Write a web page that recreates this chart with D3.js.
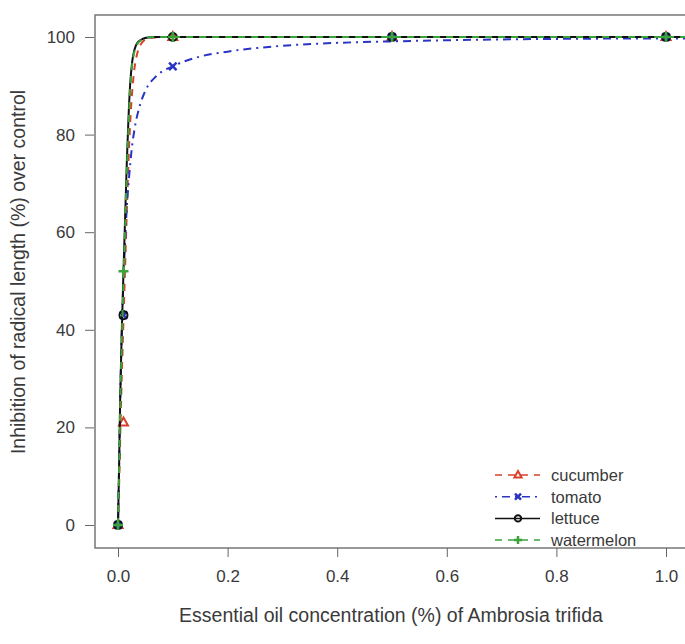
<!DOCTYPE html>
<html>
<head>
<meta charset="utf-8">
<script src="https://cdn.jsdelivr.net/npm/d3@7"></script>
<style>
  body { margin: 0; background: #fff; }
  text { font-family: "Liberation Sans", Arial, sans-serif; fill: #3a3a3a; }
</style>
</head>
<body>
<div id="chart"></div>
<script>
// observed concentrations and responses
let conc = [0, 0.01, 0.1, 0.5, 1.0];
let cucumberObs = [0, 21, 100, 100, 100];
let tomatoObs = [0, 43, 94, 100, 100];
let lettuceObs = [0, 43, 100, 100, 100];
let watermelonObs = [0, 52, 100, 100, 100];

// fitted curves
let fitX = [0, 0.002, 0.004, 0.007, 0.01, 0.013, 0.016, 0.019, 0.022, 0.026, 0.03, 0.036, 0.045, 0.055, 0.07, 0.1, 0.5, 1.04];
let cucumberFit = [0, 8, 18, 31, 42, 53, 64, 74, 82, 89, 93.5, 97, 99, 99.7, 99.95, 100, 100, 100];
let lettuceFit = [0, 12, 26, 40, 52, 63, 74, 83, 90, 95, 97.4, 98.9, 99.6, 99.9, 100, 100, 100, 100];
let watermelonFit = [0, 11, 24, 38, 50, 61, 72, 81, 89, 94.5, 97, 98.7, 99.5, 99.9, 100, 100, 100, 100];
let tomatoX = [0, 0.002, 0.004, 0.007, 0.01, 0.013, 0.016, 0.02, 0.025, 0.03, 0.04, 0.05, 0.07, 0.1, 0.15, 0.2, 0.3, 0.4, 0.5, 0.7, 1.0, 1.04];
let tomatoFit = [0, 12, 25, 40, 50, 58, 65, 71, 77, 81, 86, 89, 92, 94, 96, 97, 98.2, 98.8, 99.1, 99.5, 99.7, 99.7];

let xTicks = [0, 0.2, 0.4, 0.6, 0.8, 1.0];
let yTicks = [0, 20, 40, 60, 80, 100];

let width = 685, height = 644;
let box = {left: 95, right: 687, top: 15, bottom: 548};

let svg = d3.select("#chart").append("svg")
  .attr("width", width)
  .attr("height", height);

let x = d3.scaleLinear().domain([0, 1]).range([118, 666]);
let y = d3.scaleLinear().domain([0, 100]).range([525, 37]);

let series = [
  {name: "cucumber", color: "#d8402c", dash: "7,6", xs: fitX, fit: cucumberFit, obs: cucumberObs, pch: "tri"},
  {name: "tomato", color: "#2a34c4", dash: "2,5,8,5", xs: tomatoX, fit: tomatoFit, obs: tomatoObs, pch: "x"},
  {name: "lettuce", color: "#111111", dash: null, xs: fitX, fit: lettuceFit, obs: lettuceObs, pch: "circle"},
  {name: "watermelon", color: "#3aa43a", dash: "7,6", xs: fitX, fit: watermelonFit, obs: watermelonObs, pch: "plus"}
];

// plot frame
svg.append("rect")
  .attr("x", box.left).attr("y", box.top)
  .attr("width", box.right - box.left).attr("height", box.bottom - box.top)
  .attr("fill", "none").attr("stroke", "#777").attr("stroke-width", 1.5);

// axes
let xAxis = d3.axisBottom(x).tickValues(xTicks).tickFormat(d3.format(".1f")).tickSize(9).tickPadding(13);
svg.append("g").attr("transform", "translate(0," + box.bottom + ")").call(xAxis)
  .call(g => g.select(".domain").remove())
  .call(g => g.selectAll("line").attr("stroke", "#666"))
  .call(g => g.selectAll("text").attr("font-size", "17px").attr("fill", "#3a3a3a").style("font-family", "Liberation Sans, Arial, sans-serif"));

let yAxis = d3.axisLeft(y).tickValues(yTicks).tickSize(9).tickPadding(10);
svg.append("g").attr("transform", "translate(" + (box.left - 1) + ",0)").call(yAxis)
  .call(g => g.select(".domain").remove())
  .call(g => g.selectAll("line").attr("stroke", "#666"))
  .call(g => g.selectAll("text").attr("font-size", "17px").attr("fill", "#3a3a3a").style("font-family", "Liberation Sans, Arial, sans-serif"));

// axis titles
svg.append("text")
  .attr("x", (box.left + box.right) / 2).attr("y", 622)
  .attr("text-anchor", "middle").attr("font-size", "19.5px")
  .text("Essential oil concentration (%) of Ambrosia trifida");

svg.append("text")
  .attr("transform", "translate(25,272) rotate(-90)")
  .attr("text-anchor", "middle").attr("font-size", "19.5px")
  .text("Inhibition of radical length (%) over control");

let plot = svg.append("g");
plot.append("clipPath").attr("id", "clip")
  .append("rect").attr("x", box.left).attr("y", box.top)
  .attr("width", box.right - box.left).attr("height", box.bottom - box.top);

let line = d3.line()
  .x(d => x(d[0]))
  .y(d => y(d[1]))
  .curve(d3.curveMonotoneX);

function drawMarker(g, type, cx, cy, color, r) {
  if (type === "tri") {
    g.append("path")
      .attr("d", "M" + cx + "," + (cy - r) + "L" + (cx + r * 0.9) + "," + (cy + r * 0.6) + "L" + (cx - r * 0.9) + "," + (cy + r * 0.6) + "Z")
      .attr("fill", "none").attr("stroke", color).attr("stroke-width", 2);
  } else if (type === "x") {
    let s = r * 0.75;
    g.append("path")
      .attr("d", "M" + (cx - s) + "," + (cy - s) + "L" + (cx + s) + "," + (cy + s) + "M" + (cx - s) + "," + (cy + s) + "L" + (cx + s) + "," + (cy - s))
      .attr("stroke", color).attr("stroke-width", 2.5);
  } else if (type === "circle") {
    g.append("circle").attr("cx", cx).attr("cy", cy).attr("r", r * 0.8)
      .attr("fill", "none").attr("stroke", color).attr("stroke-width", 2);
  } else {
    g.append("path")
      .attr("d", "M" + (cx - r) + "," + cy + "L" + (cx + r) + "," + cy + "M" + cx + "," + (cy - r) + "L" + cx + "," + (cy + r))
      .attr("stroke", color).attr("stroke-width", 2.5);
  }
}

series.forEach(s => {
  let pts = s.xs.map((v, i) => [v, s.fit[i]]);
  plot.append("path")
    .datum(pts)
    .attr("clip-path", "url(#clip)")
    .attr("d", line)
    .attr("fill", "none")
    .attr("stroke", s.color)
    .attr("stroke-width", 2)
    .attr("stroke-dasharray", s.dash);
  let mg = plot.append("g");
  conc.forEach((c, i) => drawMarker(mg, s.pch, x(c), y(s.obs[i]), s.color, 5));
});

// legend
let legend = svg.append("g");
series.forEach((s, i) => {
  let ly = 475 + i * 21.7;
  legend.append("line")
    .attr("x1", 495).attr("x2", 540).attr("y1", ly).attr("y2", ly)
    .attr("stroke", s.color).attr("stroke-width", 1.5)
    .attr("stroke-dasharray", s.dash);
  drawMarker(legend, s.pch, 518, ly, s.color, 4);
  legend.append("text")
    .attr("x", 551).attr("y", ly + 6)
    .attr("font-size", "16.5px")
    .text(s.name);
});
</script>
</body>
</html>
